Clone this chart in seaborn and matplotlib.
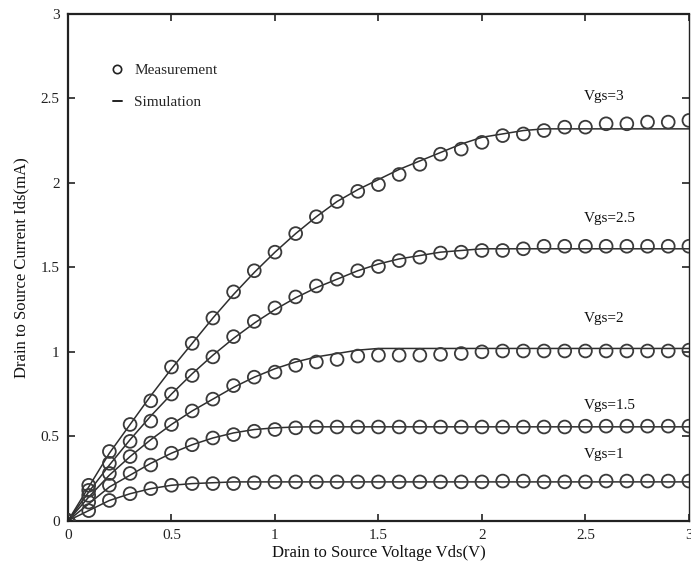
import matplotlib
matplotlib.use("Agg")
import matplotlib.pyplot as plt
from matplotlib.lines import Line2D
import numpy as np
import pandas as pd
import seaborn as sns

# ---- data ----
vds = [round(0.1 * i, 1) for i in range(31)]
vgs_labels = ["Vgs=1", "Vgs=1.5", "Vgs=2", "Vgs=2.5", "Vgs=3"]

meas_vgs1 = [0, 0.06, 0.12, 0.16, 0.19, 0.21, 0.22, 0.22, 0.22, 0.225, 0.23,
             0.23, 0.23, 0.23, 0.23, 0.23, 0.23, 0.23, 0.23, 0.23, 0.23,
             0.235, 0.235, 0.23, 0.23, 0.23, 0.235, 0.235, 0.235, 0.235, 0.235]
meas_vgs15 = [0, 0.11, 0.21, 0.28, 0.33, 0.40, 0.45, 0.49, 0.51, 0.53, 0.54,
              0.55, 0.555, 0.555, 0.555, 0.555, 0.555, 0.555, 0.555, 0.555, 0.555,
              0.555, 0.555, 0.555, 0.555, 0.56, 0.56, 0.56, 0.56, 0.56, 0.56]
meas_vgs2 = [0, 0.15, 0.28, 0.38, 0.46, 0.57, 0.65, 0.72, 0.80, 0.85, 0.88,
             0.92, 0.94, 0.955, 0.975, 0.98, 0.98, 0.98, 0.985, 0.99, 1.0,
             1.005, 1.005, 1.005, 1.005, 1.005, 1.005, 1.005, 1.005, 1.005, 1.01]
meas_vgs25 = [0, 0.18, 0.34, 0.47, 0.59, 0.75, 0.86, 0.97, 1.09, 1.18, 1.26,
              1.325, 1.39, 1.43, 1.48, 1.505, 1.54, 1.56, 1.585, 1.59, 1.60,
              1.60, 1.61, 1.625, 1.625, 1.625, 1.625, 1.625, 1.625, 1.625, 1.625]
meas_vgs3 = [0, 0.21, 0.41, 0.57, 0.71, 0.91, 1.05, 1.20, 1.355, 1.48, 1.59,
             1.70, 1.80, 1.89, 1.95, 1.99, 2.05, 2.11, 2.17, 2.20, 2.24,
             2.28, 2.29, 2.31, 2.33, 2.33, 2.35, 2.35, 2.36, 2.36, 2.37]

sim_vgs1 = [0, 0.06, 0.12, 0.16, 0.19, 0.21, 0.22, 0.225, 0.23, 0.23, 0.23,
            0.23, 0.23, 0.23, 0.23, 0.23, 0.23, 0.23, 0.23, 0.23, 0.23,
            0.23, 0.23, 0.23, 0.23, 0.23, 0.23, 0.23, 0.23, 0.23, 0.23]
sim_vgs15 = [0, 0.10, 0.20, 0.27, 0.34, 0.40, 0.45, 0.49, 0.52, 0.54, 0.55,
             0.555, 0.556, 0.556, 0.556, 0.556, 0.556, 0.556, 0.556, 0.556, 0.556,
             0.556, 0.556, 0.556, 0.556, 0.556, 0.556, 0.556, 0.556, 0.556, 0.556]
sim_vgs2 = [0, 0.14, 0.27, 0.38, 0.48, 0.57, 0.65, 0.72, 0.79, 0.85, 0.90,
            0.94, 0.97, 0.99, 1.01, 1.02, 1.02, 1.02, 1.02, 1.02, 1.02,
            1.02, 1.02, 1.02, 1.02, 1.02, 1.02, 1.02, 1.02, 1.02, 1.02]
sim_vgs25 = [0, 0.17, 0.33, 0.48, 0.62, 0.75, 0.87, 0.98, 1.08, 1.17, 1.25,
             1.32, 1.38, 1.43, 1.48, 1.52, 1.55, 1.57, 1.59, 1.60, 1.61,
             1.61, 1.61, 1.61, 1.61, 1.61, 1.61, 1.61, 1.61, 1.61, 1.61]
sim_vgs3 = [0, 0.20, 0.40, 0.57, 0.74, 0.90, 1.05, 1.20, 1.34, 1.47, 1.59,
            1.70, 1.80, 1.89, 1.96, 2.02, 2.08, 2.13, 2.18, 2.23, 2.27,
            2.29, 2.31, 2.32, 2.32, 2.32, 2.32, 2.32, 2.32, 2.32, 2.32]

label_y = [0.39, 0.68, 1.20, 1.79, 2.51]
label_x = 2.49

xticks = [0, 0.5, 1, 1.5, 2, 2.5, 3]
xticklabels = ["0", "0.5", "1", "1.5", "2", "2.5", "3"]
yticks = [0, 0.5, 1, 1.5, 2, 2.5, 3]
yticklabels = ["0", "0.5", "1", "1.5", "2", "2.5", "3"]

meas = [meas_vgs1, meas_vgs15, meas_vgs2, meas_vgs25, meas_vgs3]
sims = [sim_vgs1, sim_vgs15, sim_vgs2, sim_vgs25, sim_vgs3]

rows = []
for lab, m, s in zip(vgs_labels, meas, sims):
    for x, a, b in zip(vds, m, s):
        rows.append({"Vds": x, "meas": a, "sim": b, "Vgs": lab})
df = pd.DataFrame(rows)

# ---- plot ----
sns.set_theme(style="white")
plt.rcParams["font.family"] = ["Liberation Serif", "DejaVu Serif"]

fig = plt.figure(figsize=(6.91, 5.71), dpi=100)
ax = fig.add_axes([0.0984, 0.088, 0.8986, 0.8875])

dark = "#2e2e2e"
for lab in vgs_labels:
    sub = df[df["Vgs"] == lab]
    sns.lineplot(data=sub, x="Vds", y="sim", ax=ax, color=dark, linewidth=1.1,
                 estimator=None, sort=False, legend=False)
    sns.scatterplot(data=sub, x="Vds", y="meas", ax=ax, marker="o", s=85,
                    facecolor="none", edgecolor="#3a3a3a", linewidth=1.3,
                    legend=False, zorder=3)

for lab, yy in zip(vgs_labels, label_y):
    ax.text(label_x, yy, lab, fontsize=11, color="#111111", ha="left", va="center")

ax.set_xlim(0, 3)
ax.set_ylim(0, 3)
ax.set_xticks(xticks)
ax.set_xticklabels(xticklabels)
ax.set_yticks(yticks)
ax.set_yticklabels(yticklabels)
ax.tick_params(direction="in", length=5, width=1.2, labelsize=11, colors="#222222",
               top=True, right=True, bottom=True, left=True, pad=6)
ax.tick_params(axis="x", labeltop=False)
ax.tick_params(axis="y", labelright=False)
for side in ["left", "bottom", "top", "right"]:
    ax.spines[side].set_visible(True)
    ax.spines[side].set_color("#222222")
    ax.spines[side].set_linewidth(1.6)
ax.spines["right"].set_linewidth(1.0)

ax.set_xlabel("Drain to Source Voltage Vds(V)", fontsize=12, color="#111111", labelpad=2)
ax.set_ylabel("Drain to Source Current Ids(mA)", fontsize=12, color="#111111", labelpad=8)

handles = [
    Line2D([], [], marker="o", linestyle="none", markersize=6, markerfacecolor="none",
           markeredgecolor="#222222", markeredgewidth=1.2, label="Measurement"),
    Line2D([], [], color="#222222", linewidth=1.4, label="Simulation"),
]
ax.legend(handles=handles, loc="upper left", bbox_to_anchor=(0.05, 0.93), frameon=False,
          fontsize=11, handlelength=0.6, handletextpad=0.8, labelspacing=1.2)

ax.grid(False)
fig.savefig("out.png", dpi=100)
